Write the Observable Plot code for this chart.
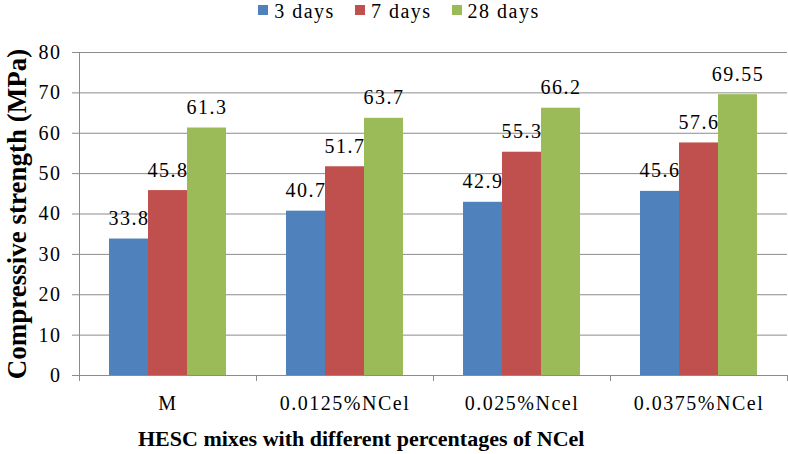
<!DOCTYPE html>
<html>
<head>
<meta charset="utf-8">
<script src="https://cdn.jsdelivr.net/npm/d3@7"></script>
<script src="https://cdn.jsdelivr.net/npm/@observablehq/plot@0.6"></script>
<style>
  html, body { margin: 0; padding: 0; background: #fff; }
  body { width: 788px; height: 454px; overflow: hidden; font-family: "Liberation Serif", "Times New Roman", serif; color: #000; }
  #legend { height: 24px; line-height: 22px; display: flex; justify-content: center; align-items: flex-start; font-size: 20px; letter-spacing: 1.5px; padding-left: 10px; }
  #legend .item { display: flex; align-items: center; margin: 0 10px; height: 22px; }
  #legend .sw { width: 10px; height: 10px; margin-right: 6px; position: relative; top: -1px; }
  #xtitle { height: 30px; line-height: 30px; font-size: 22px; font-weight: bold; padding-left: 138px; white-space: nowrap; }
  svg g[aria-label="y-axis label"] { font-weight: bold; font-size: 27px; letter-spacing: 0px; }
</style>
</head>
<body>
<div id="legend"></div>
<div id="chart"></div>
<div id="xtitle">HESC mixes with different percentages of NCel</div>
<script>
const categories = ["M", "0.0125%NCel", "0.025%Ncel", "0.0375%NCel"];
const series = ["3 days", "7 days", "28 days"];
const days3 = [33.8, 40.7, 42.9, 45.6];
const days7 = [45.8, 51.7, 55.3, 57.6];
const days28 = [61.3, 63.7, 66.2, 69.55];
const colors = ["#4F81BD", "#C0504D", "#9BBB59"];
const yTicks = [0, 10, 20, 30, 40, 50, 60, 70, 80];

const valuesBySeries = [days3, days7, days28];
const rows = categories.flatMap((c, i) =>
  series.map((s, j) => ({category: c, series: s, value: valuesBySeries[j][i]}))
);

// legend
const legend = document.getElementById("legend");
series.forEach((s, j) => {
  const item = document.createElement("div");
  item.className = "item";
  const sw = document.createElement("div");
  sw.className = "sw";
  sw.style.background = colors[j];
  const t = document.createElement("span");
  t.textContent = s;
  item.appendChild(sw);
  item.appendChild(t);
  legend.appendChild(item);
});

const gridColor = "#8c8c8c";

const chart = Plot.plot({
  width: 788,
  height: 400,
  marginTop: 28,
  marginBottom: 49,
  marginLeft: 79,
  marginRight: 1,
  style: {fontFamily: "'Liberation Serif', 'Times New Roman', serif", fontSize: "20px", color: "#000", letterSpacing: "1.5px", background: "#fff"},
  fx: {domain: categories, padding: 0, round: false},
  x: {domain: series, paddingInner: 0, paddingOuter: 0.77, round: false, axis: null},
  y: {domain: [0, 80]},
  color: {domain: series, range: colors},
  marks: [
    Plot.gridY(yTicks, {stroke: gridColor, strokeOpacity: 1}),
    Plot.barY(rows, {fx: "category", x: "series", y: "value", fill: "series"}),
    Plot.text(rows, {fx: "category", x: "series", y: "value", text: d => String(d.value), lineAnchor: "bottom", dy: -14, fill: "#000", fontSize: 20}),
    Plot.axisY(yTicks, {tickSize: 7, tickPadding: 11, stroke: gridColor, fill: "#000", fontSize: 20,
      label: "Compressive strength (MPa)", labelAnchor: "center", labelOffset: 73, labelArrow: "none"}),
    Plot.axisFx({anchor: "bottom", tickSize: 0, tickPadding: 20, label: null, fontSize: 20, fill: "#000"})
  ]
});

document.getElementById("chart").appendChild(chart);

// axis line and category boundary ticks (Excel-style), positioned with Plot's scales
const fx = chart.scale("fx");
const y = chart.scale("y");
const bounds = categories.map(c => fx.apply(c));
bounds.push(fx.apply(categories[categories.length - 1]) + fx.bandwidth);
const g = d3.select(chart).append("g").attr("stroke", gridColor).attr("stroke-width", 1);
g.append("line")
  .attr("x1", bounds[0] + 0.5).attr("x2", bounds[0] + 0.5)
  .attr("y1", y.apply(80)).attr("y2", y.apply(0));
g.selectAll("line.tick").data(bounds).join("line")
  .attr("class", "tick")
  .attr("x1", d => d + 0.5).attr("x2", d => d + 0.5)
  .attr("y1", y.apply(0)).attr("y2", y.apply(0) + 6);
</script>
</body>
</html>
